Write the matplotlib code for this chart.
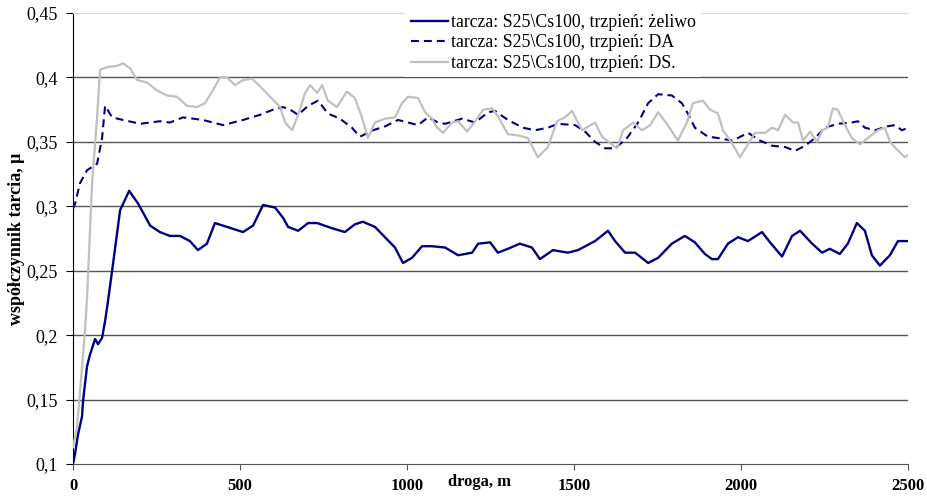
import matplotlib
matplotlib.use("Agg")
import matplotlib.pyplot as plt

# droga [m] / wspolczynnik tarcia
zel_x = [0, 6, 15, 27, 30, 42, 51, 66, 75, 87, 96, 105, 117, 141, 168, 195, 231, 260, 290, 320,
         350, 374, 401, 425, 461, 509, 539, 569, 605, 629, 644, 674, 704, 731, 775, 814, 844, 868,
         904, 934, 964, 988, 1015, 1045, 1075, 1114, 1153, 1195, 1213, 1249, 1272, 1302, 1338,
         1374, 1398, 1437, 1482, 1512, 1563, 1602, 1623, 1653, 1683, 1722, 1752, 1793, 1832, 1862,
         1892, 1913, 1931, 1961, 1991, 2021, 2063, 2087, 2123, 2153, 2177, 2213, 2243, 2266, 2296,
         2320, 2347, 2371, 2392, 2416, 2446, 2470, 2500]
zel_y = [0.100, 0.108, 0.123, 0.137, 0.149, 0.176, 0.185, 0.197, 0.193, 0.198, 0.211, 0.227, 0.250,
         0.297, 0.312, 0.302, 0.285, 0.280, 0.277, 0.277, 0.273, 0.266, 0.271, 0.287, 0.284, 0.280,
         0.285, 0.301, 0.299, 0.291, 0.284, 0.281, 0.287, 0.287, 0.283, 0.280, 0.286, 0.288, 0.284,
         0.276, 0.268, 0.256, 0.260, 0.269, 0.269, 0.268, 0.262, 0.264, 0.271, 0.272, 0.264, 0.267,
         0.271, 0.268, 0.259, 0.266, 0.264, 0.266, 0.273, 0.281, 0.273, 0.264, 0.264, 0.256, 0.260,
         0.271, 0.277, 0.272, 0.263, 0.259, 0.259, 0.271, 0.276, 0.273, 0.280, 0.272, 0.261, 0.277,
         0.281, 0.271, 0.264, 0.267, 0.263, 0.271, 0.287, 0.281, 0.262, 0.254, 0.262, 0.273, 0.273]

da_x = [0, 6, 21, 42, 72, 87, 96, 117, 150, 201, 260, 290, 329, 389, 449, 509, 560, 599, 629, 650,
        674, 704, 734, 763, 799, 835, 859, 898, 934, 973, 1033, 1063, 1093, 1114, 1165, 1204, 1243,
        1263, 1302, 1347, 1383, 1422, 1452, 1503, 1533, 1563, 1593, 1623, 1659, 1692, 1722, 1752,
        1793, 1823, 1841, 1862, 1901, 1931, 1973, 1991, 2021, 2057, 2093, 2132, 2162, 2192, 2222,
        2251, 2290, 2332, 2350, 2371, 2401, 2437, 2461, 2482, 2500]
da_y = [0.298, 0.302, 0.318, 0.328, 0.333, 0.353, 0.378, 0.369, 0.367, 0.364, 0.366, 0.365, 0.369,
        0.367, 0.363, 0.367, 0.371, 0.375, 0.377, 0.375, 0.371, 0.378, 0.382, 0.372, 0.368, 0.361,
        0.354, 0.359, 0.362, 0.367, 0.363, 0.369, 0.365, 0.364, 0.368, 0.365, 0.373, 0.374, 0.367,
        0.361, 0.359, 0.361, 0.364, 0.363, 0.358, 0.350, 0.345, 0.345, 0.353, 0.365, 0.380, 0.387,
        0.386, 0.380, 0.372, 0.361, 0.354, 0.353, 0.351, 0.353, 0.357, 0.351, 0.347, 0.346, 0.343,
        0.347, 0.353, 0.361, 0.364, 0.365, 0.366, 0.361, 0.359, 0.362, 0.363, 0.359, 0.361]

ds_x = [0, 12, 27, 36, 42, 57, 72, 81, 102, 132, 150, 171, 192, 222, 251, 281, 311, 341, 371, 395,
        419, 440, 461, 485, 509, 536, 560, 590, 620, 635, 656, 674, 695, 710, 731, 746, 763, 790,
        820, 844, 865, 883, 904, 934, 964, 985, 1003, 1033, 1054, 1075, 1090, 1108, 1135, 1153,
        1180, 1204, 1228, 1255, 1272, 1302, 1332, 1362, 1392, 1422, 1449, 1473, 1494, 1524, 1563,
        1584, 1608, 1629, 1647, 1677, 1704, 1728, 1752, 1778, 1796, 1811, 1838, 1856, 1886, 1907,
        1931, 1946, 1973, 1997, 2018, 2042, 2072, 2093, 2111, 2132, 2156, 2171, 2186, 2207, 2228,
        2243, 2260, 2275, 2290, 2311, 2332, 2356, 2380, 2410, 2431, 2446, 2467, 2491, 2500]
ds_y = [0.113, 0.129, 0.175, 0.204, 0.229, 0.318, 0.369, 0.406, 0.408, 0.409, 0.411, 0.407, 0.398,
        0.396, 0.390, 0.386, 0.385, 0.378, 0.377, 0.380, 0.390, 0.400, 0.400, 0.394, 0.398, 0.399,
        0.393, 0.385, 0.377, 0.365, 0.359, 0.371, 0.388, 0.394, 0.388, 0.394, 0.382, 0.377, 0.389,
        0.384, 0.369, 0.353, 0.365, 0.368, 0.369, 0.380, 0.385, 0.384, 0.373, 0.368, 0.361, 0.357,
        0.365, 0.366, 0.358, 0.366, 0.375, 0.376, 0.370, 0.356, 0.355, 0.353, 0.338, 0.346, 0.366,
        0.369, 0.374, 0.359, 0.365, 0.354, 0.349, 0.345, 0.359, 0.365, 0.359, 0.363, 0.373, 0.364,
        0.357, 0.351, 0.365, 0.380, 0.382, 0.375, 0.372, 0.359, 0.349, 0.338, 0.347, 0.357, 0.357,
        0.361, 0.359, 0.371, 0.365, 0.365, 0.351, 0.358, 0.350, 0.359, 0.361, 0.376, 0.375, 0.363,
        0.353, 0.348, 0.353, 0.359, 0.361, 0.350, 0.344, 0.338, 0.340]

labels = ["tarcza: S25\\Cs100, trzpień: żeliwo",
          "tarcza: S25\\Cs100, trzpień: DA",
          "tarcza: S25\\Cs100, trzpień: DS."]
x_ticks = [0, 500, 1000, 1500, 2000, 2500]
y_ticks = [0.1, 0.15, 0.2, 0.25, 0.3, 0.35, 0.4, 0.45]
y_ticklabels = ["0,1", "0,15", "0,2", "0,25", "0,3", "0,35", "0,4", "0,45"]

plt.rcParams["font.family"] = ["Liberation Serif", "DejaVu Serif"]

fig = plt.figure(figsize=(9.28, 5.0), dpi=100)
ax = fig.add_axes([0.0787, 0.072, 0.8997, 0.902])

for v in y_ticks[1:-1]:
    ax.axhline(v, color="#555555", lw=1.0, zorder=1)

navy = "#000080"
ax.plot(zel_x, zel_y, color=navy, lw=1.7, label=labels[0], zorder=3)
ax.plot(da_x, da_y, color=navy, lw=1.5, dashes=(3.8, 2.4), label=labels[1], zorder=3)
ax.plot(ds_x, ds_y, color="#c0c0c0", lw=1.6, label=labels[2], zorder=3)

ax.set_xlim(0, 2500)
ax.set_ylim(0.1, 0.45)
ax.set_xticks(x_ticks)
ax.set_xticklabels([str(t) for t in x_ticks], fontweight="bold", fontsize=12)
ax.set_yticks(y_ticks)
ax.set_yticklabels(y_ticklabels, fontsize=13)
ax.tick_params(axis="y", direction="out", length=5, pad=6, color="black")
ax.tick_params(axis="x", direction="out", length=4, pad=6, color="#555555")

ax.spines["right"].set_visible(False)
ax.spines["top"].set_color("#d8d8d8")
ax.spines["bottom"].set_color("#555555")
ax.spines["left"].set_color("black")

ax.set_xlabel("droga, m", fontweight="bold", fontsize=12, va="top")
ax.xaxis.set_label_coords(0.487, -0.022)
ax.set_ylabel("współczynnik tarcia, μ", fontweight="bold", fontsize=13)
ax.yaxis.set_label_coords(-0.058, 0.5)

leg = ax.legend(loc="upper left", bbox_to_anchor=(0.398, 1.01), frameon=True,
                fancybox=False, edgecolor="none", facecolor="white", framealpha=1,
                fontsize=12.8, handlelength=2.1, handletextpad=0.15, labelspacing=0.2,
                borderaxespad=0, borderpad=0.3)

fig.savefig("out.png", dpi=100)
